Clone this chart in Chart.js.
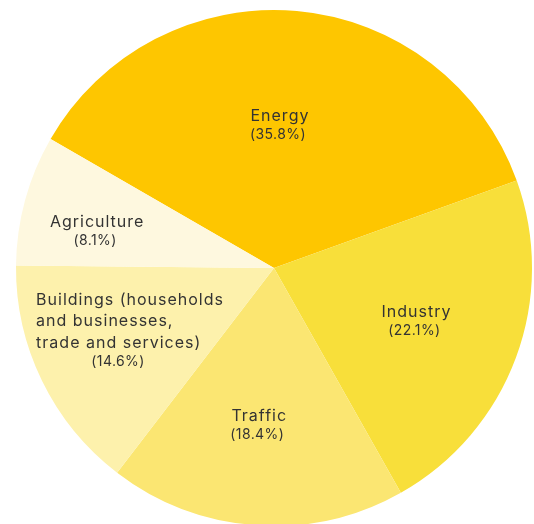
<!DOCTYPE html>
<html>
<head>
<meta charset="utf-8">
<script src="https://cdn.jsdelivr.net/npm/chart.js@4.4.1/dist/chart.umd.min.js"></script>
<style>
  html, body { margin: 0; padding: 0; background: #ffffff; overflow: hidden; width: 534px; height: 524px; }
  canvas { display: block; }
</style>
</head>
<body>
<canvas id="c" width="534" height="540"></canvas>
<script>
// ---- data ----
const categories = ["Energy", "Industry", "Traffic", "Buildings (households and businesses, trade and services)", "Agriculture"];
const nameLines = [["Energy"], ["Industry"], ["Traffic"], ["Buildings (households", "and businesses,", "trade and services)"], ["Agriculture"]];
const shares = [35.8, 22.1, 18.4, 14.6, 8.1];
const shareLabels = ["(35.8%)", "(22.1%)", "(18.4%)", "(14.6%)", "(8.1%)"];

// ---- styles ----
const sliceColors = ["#FEC600", "#F8DF3A", "#FBE672", "#FDF1AC", "#FEF8DF"];
// label placement: radial fraction of radius, angular tweak (deg), text alignment
const labelPlace = [
  { frac: 0.553, turn: -2.7, align: "center" },
  { frac: 0.59, turn: 0.3, align: "center" },
  { frac: 0.613, turn: 1.35, align: "center" },
  { frac: 0.609, turn: 2.4, align: "left" },
  { frac: 0.70, turn: -3.6, align: "center" }
];

const labelPlugin = {
  id: "sliceLabels",
  afterDatasetsDraw(chart) {
    const ctx = chart.ctx;
    const meta = chart.getDatasetMeta(0);
    meta.data.forEach((arc, i) => {
      const p = arc.getProps(["x", "y", "startAngle", "endAngle", "outerRadius"], true);
      const place = labelPlace[i];
      const mid = (p.startAngle + p.endAngle) / 2 + place.turn * Math.PI / 180;
      const r = p.outerRadius * place.frac;
      const cx = p.x + Math.cos(mid) * r;
      const cy = p.y + Math.sin(mid) * r;
      const names = nameLines[i];
      const nameGap = 21.5, pctGap = 19;
      const total = (names.length - 1) * nameGap + pctGap;
      let y = cy - total / 2;
      ctx.save();
      ctx.fillStyle = "#333333";
      ctx.textBaseline = "middle";
      ctx.font = "16px Inter, 'Open Sans', sans-serif";
      ctx.letterSpacing = "1px";
      let maxW = 0;
      names.forEach(t => { maxW = Math.max(maxW, ctx.measureText(t).width); });
      const leftX = cx - maxW / 2;
      names.forEach((t, k) => {
        if (place.align === "left") { ctx.textAlign = "left"; ctx.fillText(t, leftX, y + k * nameGap); }
        else { ctx.textAlign = "center"; ctx.fillText(t, cx, y + k * nameGap); }
      });
      const py = y + (names.length - 1) * nameGap + pctGap;
      ctx.font = "14px Inter, 'Open Sans', sans-serif";
      ctx.letterSpacing = "0.4px";
      ctx.textAlign = "center";
      ctx.fillText(shareLabels[i], place.align === "left" ? cx - 12 : cx - 2, py);
      ctx.restore();
    });
  }
};

new Chart(document.getElementById("c"), {
  type: "pie",
  data: {
    labels: categories,
    datasets: [{
      data: shares,
      backgroundColor: sliceColors,
      borderWidth: 0,
      hoverOffset: 0
    }]
  },
  options: {
    responsive: false,
    animation: false,
    rotation: -60,
    layout: { padding: { left: 16, right: 2, top: 10, bottom: 14 } },
    plugins: {
      legend: { display: false },
      tooltip: { enabled: false }
    },
    events: []
  },
  plugins: [labelPlugin]
});
</script>
</body>
</html>
